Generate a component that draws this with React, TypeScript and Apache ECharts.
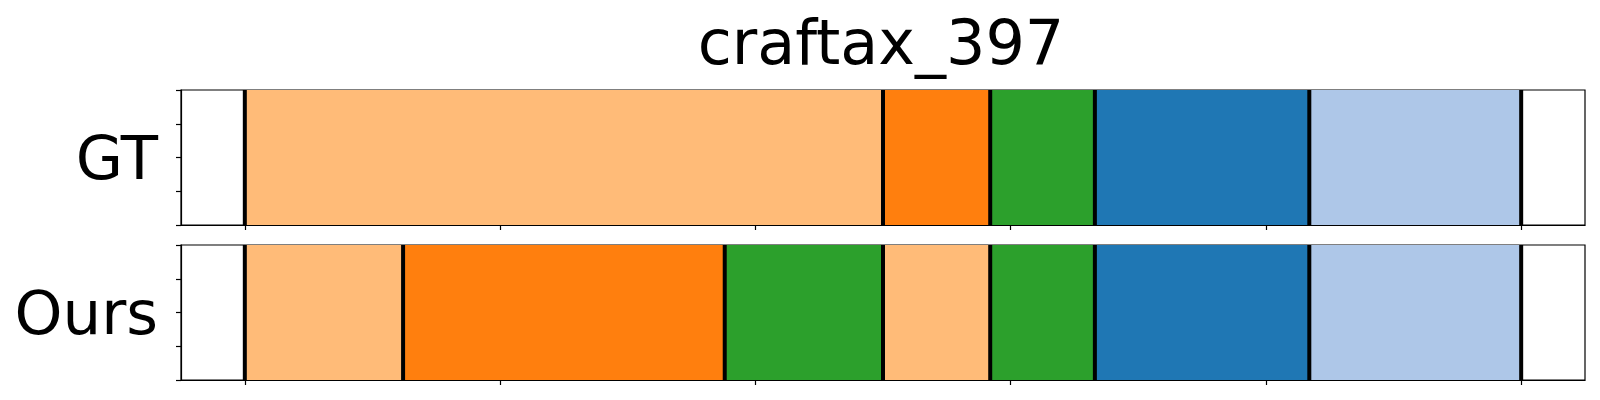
import React, { useEffect, useRef } from "react";
import * as echarts from "echarts";

const title = "craftax_397";
const rowLabels = ["GT", "Ours"];
const xTicks = [0, 100, 200, 300, 400, 500];
const yTicks = [0, 0.25, 0.5, 0.75, 1];

const gtBounds = [0, 250, 292, 333, 417, 500];
const gtColors = ["#ffbb78", "#ff7f0e", "#2ca02c", "#1f77b4", "#aec7e8"];

const oursBounds = [0, 62, 188, 250, 292, 333, 417, 500];
const oursColors = ["#ffbb78", "#ff7f0e", "#2ca02c", "#ffbb78", "#2ca02c", "#1f77b4", "#aec7e8"];

const FONT = "DejaVu Sans";

function segData(bounds: number[], colors: string[]) {
  return colors.map((c, i) => [bounds[i], bounds[i + 1], c]);
}

export default function App() {
  const ref = useRef<HTMLDivElement>(null);
  useEffect(() => {
    document.body.style.margin = "0";
    const chart = echarts.init(ref.current!, null, { renderer: "svg" });
    const rows = [
      { bounds: gtBounds, colors: gtColors },
      { bounds: oursBounds, colors: oursColors },
    ];
    const grids = [
      { left: 181, top: 90, width: 1404, height: 135 },
      { left: 181, top: 245, width: 1404, height: 135 },
    ];
    const xAxes = grids.map((_, i) => ({
      type: "value",
      gridIndex: i,
      min: -25,
      max: 525,
      axisLine: { show: true, onZero: false, lineStyle: { color: "#000", width: 1.2 } },
      axisTick: { show: true, length: 5, customValues: xTicks, lineStyle: { color: "#000", width: 1.2 } },
      axisLabel: { show: false },
      splitLine: { show: false },
    }));
    const yAxes = grids.map((_, i) => ({
      type: "value",
      gridIndex: i,
      min: 0,
      max: 1,
      interval: 0.25,
      name: rowLabels[i],
      nameLocation: "middle",
      nameRotate: 0,
      nameGap: 23,
      nameTextStyle: { fontFamily: FONT, fontSize: 61, color: "#000", verticalAlign: "middle", padding: [0, 0, 12, 0] },
      axisLine: { show: true, onZero: false, lineStyle: { color: "#000", width: 1.2 } },
      axisTick: { show: true, length: 5, customValues: yTicks, lineStyle: { color: "#000", width: 1.2 } },
      axisLabel: { show: false },
      splitLine: { show: false },
    }));
    const series: any[] = [];
    rows.forEach((r, i) => {
      series.push({
        type: "custom",
        xAxisIndex: i,
        yAxisIndex: i,
        data: segData(r.bounds, r.colors),
        renderItem: (params: any, api: any) => {
          const p0 = api.coord([api.value(0), 1]);
          const p1 = api.coord([api.value(1), 0]);
          const color = r.colors[params.dataIndex];
          return {
            type: "rect",
            shape: { x: p0[0], y: p0[1], width: p1[0] - p0[0], height: p1[1] - p0[1] },
            style: { fill: color },
          };
        },
      });
      series.push({
        type: "custom",
        xAxisIndex: i,
        yAxisIndex: i,
        data: r.bounds.map((b) => [b]),
        z: 5,
        renderItem: (params: any, api: any) => {
          const top = api.coord([api.value(0), 1]);
          const bot = api.coord([api.value(0), 0]);
          return {
            type: "line",
            shape: { x1: top[0], y1: top[1], x2: bot[0], y2: bot[1] },
            style: { stroke: "#000", lineWidth: 4 },
          };
        },
      });
    });
    chart.setOption({
      animation: false,
      backgroundColor: "#fff",
      title: {
        text: title,
        left: 876,
        textAlign: "center",
        top: 6,
        textStyle: { fontFamily: FONT, fontSize: 62, fontWeight: "normal", color: "#000" },
      },
      grid: grids.map((g) => ({ ...g, show: true, borderColor: "#000", borderWidth: 1.2, backgroundColor: "transparent" })),
      xAxis: xAxes,
      yAxis: yAxes,
      series,
    });
    return () => chart.dispose();
  }, []);
  return <div ref={ref} style={{ width: 1600, height: 400 }} />;
}
